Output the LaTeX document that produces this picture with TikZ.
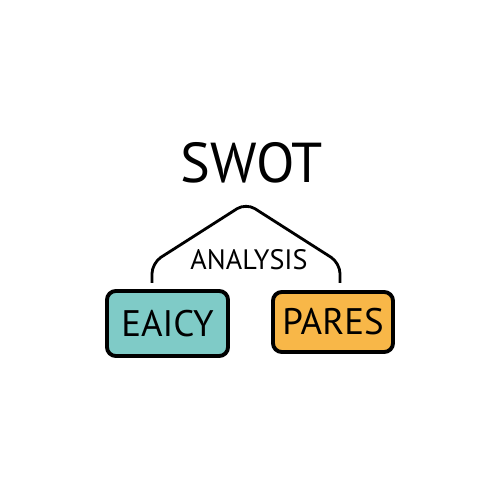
\documentclass[tikz,border=0pt]{standalone}
\usepackage{fontspec}
\setmainfont{PT Sans}
\definecolor{boxteal}{HTML}{7FCBC7}
\definecolor{boxorange}{HTML}{F8B748}

\begin{document}
\begin{tikzpicture}[
        title/.style={font=\fontsize{32}{36}\selectfont, inner sep=0pt},
        sub label/.style={font=\fontsize{16}{18}\selectfont, inner sep=0pt},
        part box/.style={draw, line width=2.2pt, rounded corners=5pt, minimum width=2.42cm, minimum height=1.3cm, inner sep=0pt, font=\fontsize{21}{24}\selectfont},
        roof edge/.style={draw, line width=1.6pt, rounded corners=6pt}
    ]
	\useasboundingbox (0,0) rectangle (10,10);
	\node[title] (swot) at (5.04,6.74) {SWOT};
	\node[sub label] (analysis) at (4.98,4.8) {ANALYSIS};
	\node[part box, fill=boxteal] (eaicy) at (3.35,3.53) {EAICY};
	\node[part box, fill=boxorange, minimum width=2.4cm, minimum height=1.2cm] (pares) at (6.66,3.56) {PARES};
	\coordinate (left_foot) at (3.04,4.34);
	\coordinate (apex) at (4.92,5.94);
	\coordinate (right_foot) at (6.8,4.34);
	\draw[roof edge] (left_foot) -- (3.04,4.74) -- (apex) -- (6.8,4.74) -- (right_foot);
\end{tikzpicture}
\end{document}
